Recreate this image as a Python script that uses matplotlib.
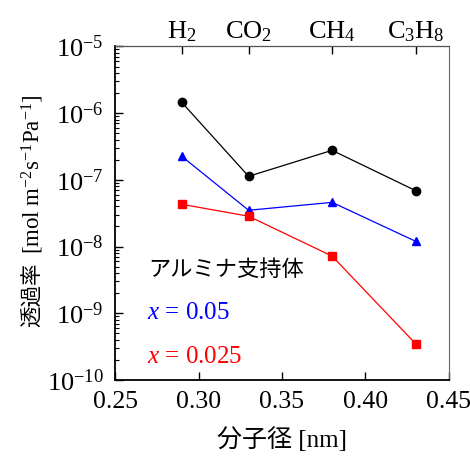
import numpy as np
import matplotlib.pyplot as plt
from matplotlib.ticker import LogLocator, NullFormatter

plt.rcParams['font.family'] = ['Liberation Serif', 'Noto Sans CJK JP']
plt.rcParams['mathtext.fontset'] = 'custom'
plt.rcParams['mathtext.rm'] = 'Liberation Serif'
plt.rcParams['mathtext.it'] = 'Liberation Serif:italic'
plt.rcParams['mathtext.bf'] = 'Liberation Serif:bold'

# kinetic diameter [nm]
diam = [0.29, 0.33, 0.38, 0.43]
gases = [r'H$_\mathrm{2}$', r'CO$_\mathrm{2}$', r'CH$_\mathrm{4}$', r'C$_\mathrm{3}$H$_\mathrm{8}$']

# permeance [mol m-2 s-1 Pa-1]
perm_support = [1.45e-6, 1.13e-7, 2.77e-7, 6.9e-8]
perm_x005 = [2.25e-7, 3.5e-8, 4.6e-8, 1.2e-8]
perm_x0025 = [4.3e-8, 2.85e-8, 7.2e-9, 3.5e-10]

xticks = [0.25, 0.30, 0.35, 0.40, 0.45]
xticklabels = ['0.25', '0.30', '0.35', '0.40', '0.45']
yticks = [1e-10, 1e-9, 1e-8, 1e-7, 1e-6, 1e-5]
yticklabels = ['10$^\\mathrm{-10}$', '10$^\\mathrm{-9}$', '10$^\\mathrm{-8}$',
               '10$^\\mathrm{-7}$', '10$^\\mathrm{-6}$', '10$^\\mathrm{-5}$']

fig = plt.figure(figsize=(4.70, 4.62), dpi=100)
ax = fig.add_axes([0.2447, 0.1775, 0.7106, 0.722])

ax.plot(diam, perm_support, '-o', color='black', lw=0.9, ms=6)
ax.plot(diam, perm_x005, '-^', color='blue', lw=0.9, ms=6)
ax.plot(diam, perm_x0025, '-s', color='red', lw=0.9, ms=6)

ax.set_yscale('log')
ax.set_ylim(1e-10, 1e-5)
ax.set_xlim(0.25, 0.45)
ax.set_xticks(xticks)
ax.set_xticklabels(xticklabels, fontsize=18.5)
ax.yaxis.set_minor_locator(LogLocator(base=10, subs=np.arange(2, 10), numticks=10))
ax.yaxis.set_minor_formatter(NullFormatter())
ax.set_yticks(yticks)
ax.set_yticklabels(yticklabels, fontsize=19)

ax.tick_params(axis='both', which='major', direction='in', length=6, width=1, pad=8)
ax.tick_params(axis='y', which='minor', direction='in', length=3, width=0.8)
ax.tick_params(axis='x', which='both', top=False)
ax.tick_params(axis='y', which='both', right=False)
for s in ['left', 'bottom']:
    ax.spines[s].set_linewidth(1.3)
ax.spines['right'].set_color('#666666')
ax.spines['top'].set_color('#555555')

top = ax.secondary_xaxis('top')
top.set_xticks(diam)
top.set_xticklabels(gases, fontsize=19)
top.tick_params(direction='in', length=6, width=1, pad=2)

ax.set_xlabel('分子径 [nm]', fontsize=18, labelpad=10)

# y label: Japanese part and unit part drawn separately (mathtext has no CJK glyphs)
fig.text(32 / 470, 1 - 295 / 462, '透過率', rotation=90, fontsize=15.5,
         ha='center', va='center', family=['Noto Sans CJK JP'])
fig.text(33 / 470, 1 - 174 / 462, '[mol m$^\\mathrm{-2}$s$^\\mathrm{-1}$Pa$^\\mathrm{-1}$]',
         rotation=90, fontsize=16.5, ha='center', va='center')

ax.text(0.1, 0.33, 'アルミナ支持体', transform=ax.transAxes, fontsize=16,
        family=['Noto Sans CJK JP'], color='black', va='center')
ax.text(0.095, 0.2, r'$\mathit{x}$ = 0.05', transform=ax.transAxes, fontsize=18,
        color='blue', va='center')
ax.text(0.095, 0.068, r'$\mathit{x}$ = 0.025', transform=ax.transAxes, fontsize=18,
        color='red', va='center')

fig.savefig('out.png', dpi=100)
